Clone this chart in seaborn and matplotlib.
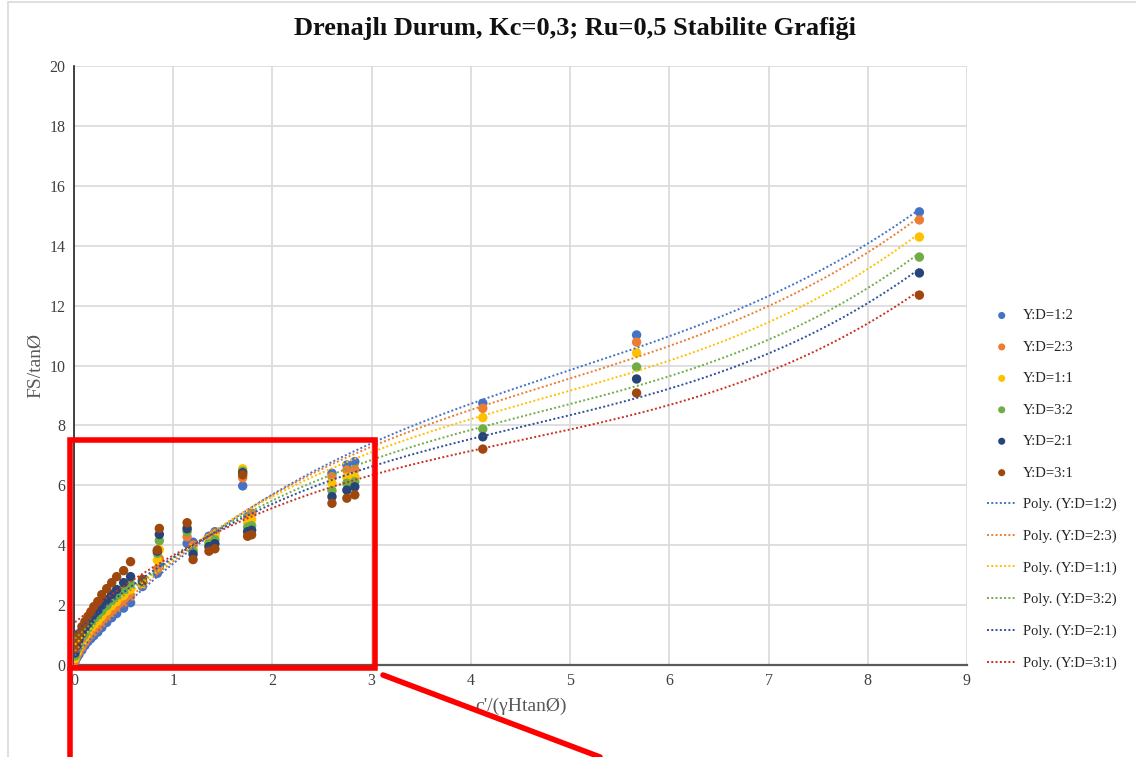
import numpy as np
import pandas as pd
import matplotlib
matplotlib.use('Agg')
import matplotlib.pyplot as plt
from matplotlib.patches import Rectangle
from matplotlib.lines import Line2D
import seaborn as sns

# x values: c'/(yH tanO), shared by all slope series
x_vals = [0.01, 0.03, 0.05, 0.08, 0.11, 0.14, 0.17, 0.20, 0.24, 0.28, 0.33,
          0.38, 0.43, 0.50, 0.57, 0.69, 0.84, 0.86, 1.14, 1.20, 1.36, 1.42,
          1.70, 1.75, 1.79, 2.60, 2.75, 2.83, 4.12, 5.67, 8.52]

# FS/tanO per slope ratio
y_12 = [0.10, 0.25, 0.35, 0.50, 0.65, 0.78, 0.88, 0.98, 1.10, 1.25, 1.42, 1.58, 1.72, 1.90, 2.08, 2.62,
        3.06, 3.30, 4.06, 4.10, 4.30, 4.45, 5.98, 4.95, 5.07, 6.40, 6.68, 6.79, 8.74, 11.02, 15.13]
y_23 = [0.15, 0.32, 0.45, 0.60, 0.76, 0.90, 1.02, 1.12, 1.25, 1.40, 1.58, 1.75, 1.90, 2.08, 2.28, 2.68,
        3.20, 3.55, 4.28, 4.00, 4.25, 4.40, 6.25, 4.90, 5.05, 6.29, 6.51, 6.53, 8.57, 10.78, 14.86]
y_11 = [0.22, 0.42, 0.58, 0.75, 0.92, 1.06, 1.20, 1.32, 1.45, 1.62, 1.80, 1.98, 2.12, 2.32, 2.52, 2.72,
        3.50, 3.85, 4.60, 3.90, 4.15, 4.30, 6.55, 4.75, 4.85, 6.07, 6.27, 6.29, 8.26, 10.42, 14.29]
y_32 = [0.30, 0.52, 0.70, 0.90, 1.06, 1.22, 1.36, 1.50, 1.64, 1.80, 1.98, 2.16, 2.32, 2.52, 2.72, 2.76,
        3.73, 4.15, 4.45, 3.80, 4.05, 4.18, 6.47, 4.60, 4.65, 5.82, 6.07, 6.12, 7.88, 9.95, 13.62]
y_21 = [0.40, 0.65, 0.84, 1.05, 1.22, 1.38, 1.52, 1.68, 1.82, 2.00, 2.18, 2.36, 2.52, 2.75, 2.95, 2.80,
        3.80, 4.36, 4.55, 3.70, 3.95, 4.05, 6.42, 4.45, 4.50, 5.62, 5.84, 5.95, 7.62, 9.55, 13.09]
y_31 = [0.55, 0.85, 1.05, 1.28, 1.45, 1.62, 1.78, 1.95, 2.12, 2.35, 2.55, 2.75, 2.95, 3.15, 3.45, 2.86,
        3.84, 4.56, 4.75, 3.52, 3.80, 3.88, 6.35, 4.30, 4.35, 5.40, 5.57, 5.68, 7.21, 9.08, 12.35]

series_names = ["Y:D=1:2", "Y:D=2:3", "Y:D=1:1", "Y:D=3:2", "Y:D=2:1", "Y:D=3:1"]
series_y = [y_12, y_23, y_11, y_32, y_21, y_31]
point_colors = ["#4472C4", "#ED7D31", "#FFC000", "#70AD47", "#264478", "#9E480E"]
line_colors = ["#4472C4", "#ED7D31", "#FFC000", "#70AD47", "#2F4F9A", "#C8321E"]
poly_order = 3

sns.set_theme(style="white")
plt.rcParams['font.family'] = ['Liberation Serif', 'DejaVu Serif']

fig = plt.figure(figsize=(11.36, 7.57), dpi=100)
ax = fig.add_axes([74 / 1136, 1 - 665 / 757, (967 - 74) / 1136, (665 - 66) / 757])

# scatter points
for name, ys, c in zip(series_names, series_y, point_colors):
    df = pd.DataFrame({"x": x_vals, "y": ys})
    sns.scatterplot(data=df, x="x", y="y", color=c, s=46, edgecolor="none",
                    label=name, ax=ax, zorder=3)

# polynomial trend lines fitted to each series
for name, ys, c in zip(series_names, series_y, line_colors):
    coef = np.polyfit(x_vals, ys, poly_order)
    xs = np.linspace(min(x_vals), max(x_vals), 300)
    trend = pd.DataFrame({"x": xs, "y": np.polyval(coef, xs)})
    sns.lineplot(data=trend, x="x", y="y", color=c, lw=1.4, linestyle=(0, (1, 1.2)),
                 label="Poly. (" + name + ")", ax=ax, zorder=4)

ax.set_xlim(0, 9)
ax.set_ylim(0, 20)
ax.set_xticks(range(0, 10))
ax.set_yticks(range(0, 21, 2))
ax.grid(True, color="#D9D9D9", lw=1.2)
ax.set_axisbelow(True)
for s in ["top", "right"]:
    ax.spines[s].set_visible(False)
ax.spines["left"].set_color("#222222")
ax.spines["bottom"].set_color("#595959")
ax.spines["left"].set_linewidth(1.2)
ax.spines["bottom"].set_linewidth(1.6)
ax.tick_params(axis="both", labelsize=11.5, colors="#404040", length=0, pad=6)
ax.set_xlabel("c'/(γHtanØ)", fontsize=14, color="#595959", labelpad=6)
ax.set_ylabel("FS/tanØ", fontsize=14, color="#595959", labelpad=4)

handles, labels = ax.get_legend_handles_labels()
ax.get_legend().remove()
fig.legend(handles, labels, loc="upper left", bbox_to_anchor=(974 / 1136, 1 - 296 / 757),
           frameon=False, fontsize=10.5, labelspacing=1.25, handlelength=2.0,
           handletextpad=0.45, markerscale=0.75)

fig.suptitle("Drenajlı Durum, Kc=0,3; Ru=0,5 Stabilite Grafiği", x=575 / 1136, y=1 - 29 / 757,
             va="center", fontsize=19, fontweight="bold", color="#111111")

# chart area border
fig.patches.append(Rectangle((8 / 1136, -0.05), 1.2, 1 - 2 / 757 + 0.05, transform=fig.transFigure,
                             fill=False, edgecolor="#D9D9D9", lw=1.2))

# red highlight box and leader lines
red = "#FF0000"
fig.patches.append(Rectangle((70 / 1136, 1 - 668 / 757), (375 - 70) / 1136, (668 - 440) / 757,
                             transform=fig.transFigure, fill=False, edgecolor=red, lw=4, zorder=10))
fig.lines.append(Line2D([70 / 1136, 70 / 1136], [1 - 668 / 757, 0], transform=fig.transFigure,
                        color=red, lw=4, zorder=10))
fig.lines.append(Line2D([383 / 1136, 600 / 1136], [1 - 675 / 757, 0], transform=fig.transFigure,
                        color=red, lw=4, zorder=10))

fig.savefig("out.png", dpi=100)
